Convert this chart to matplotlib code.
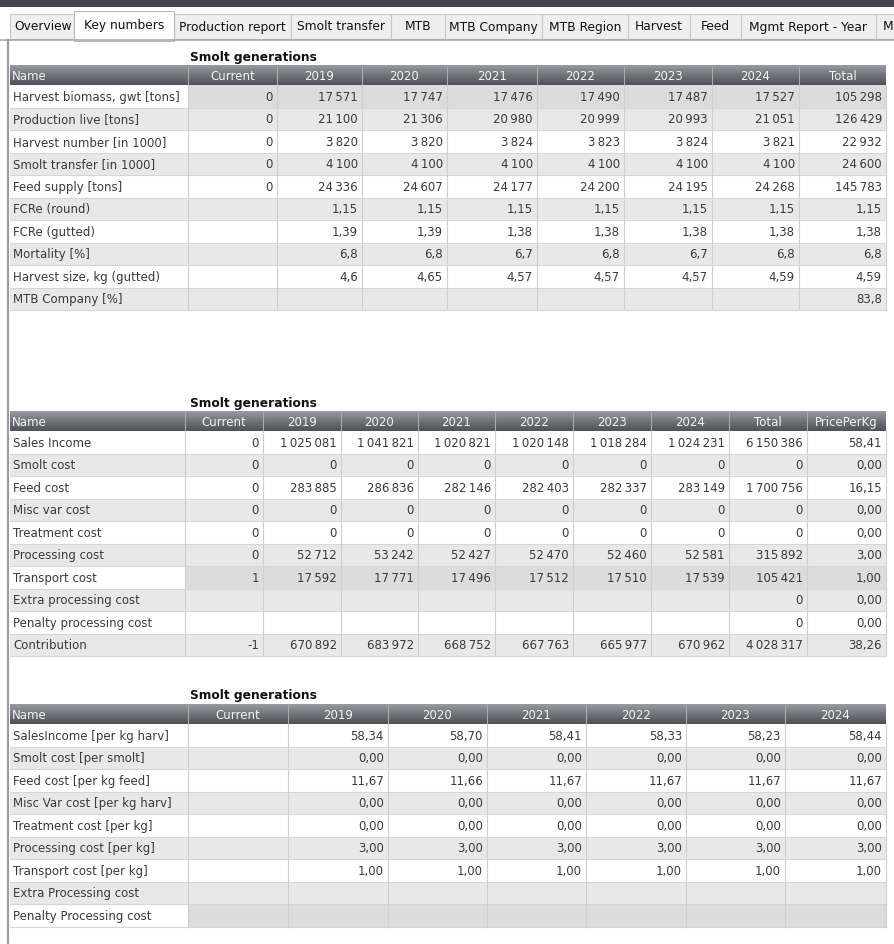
import numpy as np
import matplotlib.pyplot as plt
from matplotlib.patches import Rectangle
from matplotlib.colors import LinearSegmentedColormap

# Pestañas de la ventana
tabs = ['Overview', 'Key numbers', 'Production report', 'Smolt transfer', 'MTB',
        'MTB Company', 'MTB Region', 'Harvest', 'Feed', 'Mgmt Report - Year', 'M']
active_tab = 1
title = 'Smolt generations'

# Tabla 1: indicadores clave
t1_cols = ['Name', 'Current', '2019', '2020', '2021', '2022', '2023', '2024', 'Total']
t1_names = ['Harvest biomass, gwt [tons]', 'Production live [tons]', 'Harvest number [in 1000]',
            'Smolt transfer [in 1000]', 'Feed supply [tons]', 'FCRe (round)', 'FCRe (gutted)',
            'Mortality [%]', 'Harvest size, kg (gutted)', 'MTB Company [%]']
t1_values = [
    [0, 17571, 17747, 17476, 17490, 17487, 17527, 105298],
    [0, 21100, 21306, 20980, 20999, 20993, 21051, 126429],
    [0, 3820, 3820, 3824, 3823, 3824, 3821, 22932],
    [0, 4100, 4100, 4100, 4100, 4100, 4100, 24600],
    [0, 24336, 24607, 24177, 24200, 24195, 24268, 145783],
    [None, 1.15, 1.15, 1.15, 1.15, 1.15, 1.15, 1.15],
    [None, 1.39, 1.39, 1.38, 1.38, 1.38, 1.38, 1.38],
    [None, 6.8, 6.8, 6.7, 6.8, 6.7, 6.8, 6.8],
    [None, 4.6, 4.65, 4.57, 4.57, 4.57, 4.59, 4.59],
    [None, None, None, None, None, None, None, 83.8],
]

# Tabla 2: ingresos y costos
t2_cols = ['Name', 'Current', '2019', '2020', '2021', '2022', '2023', '2024', 'Total', 'PricePerKg']
t2_names = ['Sales Income', 'Smolt cost', 'Feed cost', 'Misc var cost', 'Treatment cost',
            'Processing cost', 'Transport cost', 'Extra processing cost',
            'Penalty processing cost', 'Contribution']
t2_values = [
    [0, 1025081, 1041821, 1020821, 1020148, 1018284, 1024231, 6150386, 58.41],
    [0, 0, 0, 0, 0, 0, 0, 0, 0.0],
    [0, 283885, 286836, 282146, 282403, 282337, 283149, 1700756, 16.15],
    [0, 0, 0, 0, 0, 0, 0, 0, 0.0],
    [0, 0, 0, 0, 0, 0, 0, 0, 0.0],
    [0, 52712, 53242, 52427, 52470, 52460, 52581, 315892, 3.0],
    [1, 17592, 17771, 17496, 17512, 17510, 17539, 105421, 1.0],
    [None, None, None, None, None, None, None, 0, 0.0],
    [None, None, None, None, None, None, None, 0, 0.0],
    [-1, 670892, 683972, 668752, 667763, 665977, 670962, 4028317, 38.26],
]

# Tabla 3: costos unitarios
t3_cols = ['Name', 'Current', '2019', '2020', '2021', '2022', '2023', '2024']
t3_names = ['SalesIncome [per kg harv]', 'Smolt cost [per smolt]', 'Feed cost [per kg feed]',
            'Misc Var cost [per kg harv]', 'Treatment cost [per kg]', 'Processing cost [per kg]',
            'Transport cost [per kg]', 'Extra Processing cost', 'Penalty Processing cost']
t3_values = [
    [None, 58.34, 58.70, 58.41, 58.33, 58.23, 58.44],
    [None, 0.0, 0.0, 0.0, 0.0, 0.0, 0.0],
    [None, 11.67, 11.66, 11.67, 11.67, 11.67, 11.67],
    [None, 0.0, 0.0, 0.0, 0.0, 0.0, 0.0],
    [None, 0.0, 0.0, 0.0, 0.0, 0.0, 0.0],
    [None, 3.0, 3.0, 3.0, 3.0, 3.0, 3.0],
    [None, 1.0, 1.0, 1.0, 1.0, 1.0, 1.0],
    [None] * 7,
    [None] * 7,
]

# Geometría (pixeles)
W, H = 895, 945
tab_edges = [10, 76, 174, 291, 391, 445, 542, 628, 690, 741, 876, 900]
t1_edges = [10, 188, 277, 362, 447, 537, 624, 712, 799, 886]
t2_edges = [10, 185, 263, 341, 418, 495, 573, 651, 729, 807, 886]
t3_edges = [10, 188, 288, 388, 487, 586, 686, 785, 886]
rh, hh = 22.5, 20
fs = 8.5
txt_clr = '#3a3a3a'
grey_row, sel_row = '#e8e8e8', '#dcdcdc'
hdr_cmap = LinearSegmentedColormap.from_list('hdr', ['#979aa1', '#72747c', '#4f515a'])


def fmt(v, fspec):
    if v is None:
        return ''
    if isinstance(v, int):
        return f'{v:,}'.replace(',', '\u2009')
    return format(v, fspec).replace('.', ',')


def draw_table(ax, top, edges, cols, names, values, fspec, sel):
    ax.text(190, top - 9, title, fontsize=8.8, fontweight='bold', color='#111111',
            ha='left', va='center')
    x0, x1 = edges[0], edges[-1]
    grad = np.linspace(0, 1, 50).reshape(-1, 1)
    ax.imshow(grad, cmap=hdr_cmap, extent=[x0, x1, top + hh, top], aspect='auto',
              interpolation='bilinear', zorder=1)
    for j, c in enumerate(cols):
        if j > 0:
            ax.plot([edges[j], edges[j]], [top + 1, top + hh], color='#a9abb1', lw=0.8, zorder=2)
        if j == 0:
            ax.text(edges[0] + 2, top + hh / 2 + 0.5, c, fontsize=fs, color='#f4f4f4',
                    ha='left', va='center', zorder=3)
        else:
            ax.text((edges[j] + edges[j + 1]) / 2, top + hh / 2 + 0.5, c, fontsize=fs,
                    color='#f4f4f4', ha='center', va='center', zorder=3)
    y = top + hh
    for i, name in enumerate(names):
        bg = grey_row if i % 2 == 1 else 'white'
        if i == sel:
            ax.add_patch(Rectangle((x0, y), edges[1] - x0, rh, fc='white', ec='none', zorder=1))
            ax.add_patch(Rectangle((edges[1], y), x1 - edges[1], rh, fc=sel_row, ec='none', zorder=1))
        else:
            ax.add_patch(Rectangle((x0, y), x1 - x0, rh, fc=bg, ec='none', zorder=1))
        ax.plot([x0, x1], [y + rh, y + rh], color='#d6d6d6', lw=0.8, zorder=2)
        ax.text(x0 + 3, y + rh / 2, name, fontsize=fs, color=txt_clr, ha='left', va='center', zorder=3)
        for j, v in enumerate(values[i]):
            ax.text(edges[j + 2] - 4, y + rh / 2, fmt(v, fspec), fontsize=fs, color=txt_clr,
                    ha='right', va='center', zorder=3)
        y += rh
    for e in edges[1:-1]:
        ax.plot([e, e], [top + hh, y], color='#cfcfcf', lw=0.8, zorder=2)
    ax.plot([x1, x1], [top + hh, y], color='#cfcfcf', lw=0.8, zorder=2)


fig = plt.figure(figsize=(W / 100, H / 100), dpi=100)
ax = fig.add_axes([0, 0, 1, 1])
ax.axis('off')

# Barra superior y pestañas
ax.add_patch(Rectangle((0, 0), W, 8, fc='#43454f', ec='none'))
for k, tab in enumerate(tabs):
    a, b = tab_edges[k], tab_edges[k + 1]
    if k == active_tab:
        ax.add_patch(Rectangle((a - 2, 12), b - a + 2, 30, fc='white', ec='#b8b8b8', lw=0.8, zorder=3))
        ax.text((a + b) / 2 - 1, 25, tab, fontsize=8.8, color='#111111', ha='center', va='center', zorder=4)
    else:
        ax.add_patch(Rectangle((a, 15), b - a, 25, fc='#efefef', ec='#c8c8c8', lw=0.8, zorder=2))
        ax.text((a + b) / 2, 27, tab, fontsize=8.8, color='#111111', ha='center', va='center',
                zorder=4, clip_on=True)
ax.plot([0, W], [41, 41], color='#a8a8a8', lw=1.2, zorder=3)
ax.plot([8, 8], [41, H], color='#9a9a9a', lw=1.5, zorder=3)

draw_table(ax, 66, t1_edges, t1_cols, t1_names, t1_values, 'g', 0)
draw_table(ax, 412, t2_edges, t2_cols, t2_names, t2_values, '.2f', 6)
draw_table(ax, 705, t3_edges, t3_cols, t3_names, t3_values, '.2f', 8)

ax.set_xlim(0, W)
ax.set_ylim(H, 0)
fig.savefig('out.png', dpi=100)
